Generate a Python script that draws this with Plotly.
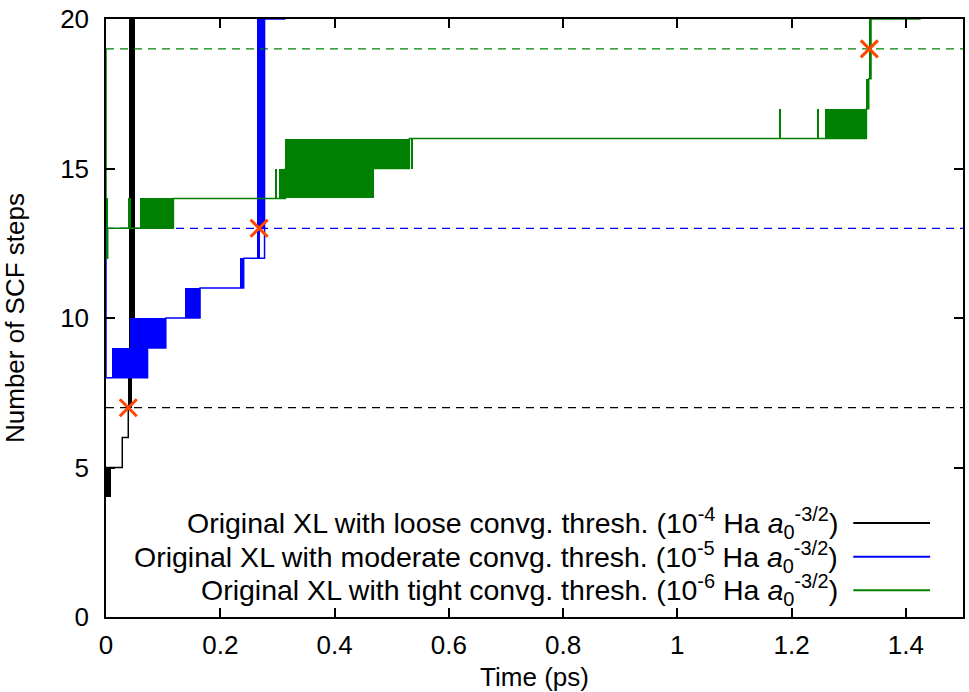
import plotly.graph_objects as go

# ---------------- data ----------------
# Step lines (hv): time (ps) and number of SCF steps
black_t = [0.0, 0.0285, 0.039, 0.041]
black_y = [5, 6, 7, 8]
blue_t = [0.0, 0.0, 0.010, 0.0727, 0.1047, 0.138, 0.1646, 0.235, 0.241, 0.264, 0.2775, 0.314]
blue_y = [13, 8, 8, 9, 10, 10, 11, 11, 12, 12, 20, 20]
green_t = [0.0, 0.0, 0.003, 0.118, 0.302, 0.314, 0.531, 1.259, 1.331, 1.335, 1.339, 1.426]
green_y = [19, 12, 13, 14, 14, 15, 16, 16, 17, 18, 20, 20]

# Rapidly oscillating stretches (appear as filled blocks): start, end, low, high
black_band_t0 = [0.0, 0.039, 0.0406]
black_band_t1 = [0.008, 0.045, 0.0506]
black_band_lo = [4, 7, 8]
black_band_hi = [5, 8, 21]

blue_band_t0 = [0.010, 0.042, 0.138, 0.235, 0.264, 0.264]
blue_band_t1 = [0.0727, 0.1047, 0.1646, 0.241, 0.270, 0.2775]
blue_band_lo = [8, 9, 10, 11, 12, 13]
blue_band_hi = [9, 10, 11, 12, 13, 21]

green_band_t0 = [0.0, 0.040, 0.0593, 0.2965, 0.302, 0.314, 0.5355, 1.1785, 1.2445, 1.259, 1.331, 1.335]
green_band_t1 = [0.003, 0.043, 0.118, 0.2990, 0.4695, 0.531, 0.5375, 1.1810, 1.2470, 1.331, 1.335, 1.339]
green_band_lo = [13, 13, 13, 14, 14, 15, 15, 16, 16, 16, 17, 18]
green_band_hi = [14, 14, 14, 15, 15, 16, 16, 17, 17, 17, 18, 21]

# reference thresholds (dashed lines) and crossing markers
thresh_levels = [7, 13, 19]
marker_t = [0.039, 0.268, 1.336]
marker_y = [7, 13, 19]

legend_labels = [
    "Original XL with loose convg. thresh. (10<sup>-4</sup> Ha <i>a</i><sub>0</sub><sup>-3/2</sup>)",
    "Original XL with moderate convg. thresh. (10<sup>-5</sup> Ha <i>a</i><sub>0</sub><sup>-3/2</sup>)",
    "Original XL with tight convg. thresh. (10<sup>-6</sup> Ha <i>a</i><sub>0</sub><sup>-3/2</sup>)",
]
x_ticks = [0, 0.2, 0.4, 0.6, 0.8, 1.0, 1.2, 1.4]
x_tick_text = ["0", "0.2", "0.4", "0.6", "0.8", "1", "1.2", "1.4"]
y_ticks = [0, 5, 10, 15, 20]

colors = ["#000000", "#0000ff", "#008000"]
X_RANGE = [0, 1.5]
Y_RANGE = [0, 20]
FONT = "Liberation Sans, Arial, Helvetica, sans-serif"

fig = go.Figure()

# dashed threshold lines
for lvl, c in zip(thresh_levels, colors):
    fig.add_trace(go.Scatter(x=X_RANGE, y=[lvl, lvl], mode="lines",
                             line=dict(color=c, width=1.2, dash="8px,6px"),
                             hoverinfo="skip", showlegend=False))

series = [
    (black_t, black_y, black_band_t0, black_band_t1, black_band_lo, black_band_hi),
    (blue_t, blue_y, blue_band_t0, blue_band_t1, blue_band_lo, blue_band_hi),
    (green_t, green_y, green_band_t0, green_band_t1, green_band_lo, green_band_hi),
]
for (t, y, b0, b1, lo, hi), c in zip(series, colors):
    fig.add_trace(go.Bar(
        x=[(a + b) / 2 for a, b in zip(b0, b1)],
        y=[h - l for l, h in zip(lo, hi)],
        base=lo,
        width=[b - a for a, b in zip(b0, b1)],
        marker=dict(color=c, line=dict(width=0)),
        showlegend=False, hoverinfo="skip"))
    fig.add_trace(go.Scatter(x=t, y=y, mode="lines", line=dict(color=c, width=1.5, shape="hv"),
                             showlegend=False, hoverinfo="skip"))

fig.add_trace(go.Scatter(x=marker_t, y=marker_y, mode="markers",
                         marker=dict(symbol="x-thin", size=17,
                                     line=dict(color="#ff4500", width=3)),
                         showlegend=False, hoverinfo="skip"))

# gnuplot-style key: text right-aligned, line sample to the right
L, R, T, B = 106, 4, 15, 72
W, H = 969, 692
pw, ph = W - L - R, H - T - B
def px_x(p): return (p - L) / pw
def px_y(p): return (H - B - p) / ph

key_rows = [525, 559, 593]
for lab, c, ry in zip(legend_labels, colors, key_rows):
    fig.add_annotation(x=px_x(842), y=px_y(ry), xref="paper", yref="paper",
                       text=lab, showarrow=False, xanchor="right", yanchor="middle",
                       font=dict(family=FONT, size=28.5, color="black"))
    fig.add_shape(type="line", xref="paper", yref="paper",
                  x0=px_x(855), x1=px_x(932), y0=px_y(ry), y1=px_y(ry),
                  line=dict(color=c, width=2))

axis_common = dict(showline=True, linecolor="black", linewidth=1.5, mirror="ticks",
                   ticks="inside", ticklen=9, tickwidth=1.5, tickcolor="black",
                   showgrid=False, zeroline=False,
                   tickfont=dict(family=FONT, size=26, color="black"))

fig.update_layout(
    width=W, height=H, margin=dict(l=L, r=R, t=T, b=B),
    paper_bgcolor="white", plot_bgcolor="white", barmode="overlay", bargap=0,
    font=dict(family=FONT, size=26, color="black"),
    xaxis=dict(range=X_RANGE, tickvals=x_ticks, ticktext=x_tick_text,
               title=dict(text="Time (ps)", font=dict(family=FONT, size=26), standoff=10),
               ticklabelstandoff=4, **axis_common),
    yaxis=dict(range=Y_RANGE, tickvals=y_ticks,
               title=dict(text="Number of SCF steps", font=dict(family=FONT, size=26), standoff=30),
               ticklabelstandoff=10, **axis_common),
)

fig.write_html("out.html")
